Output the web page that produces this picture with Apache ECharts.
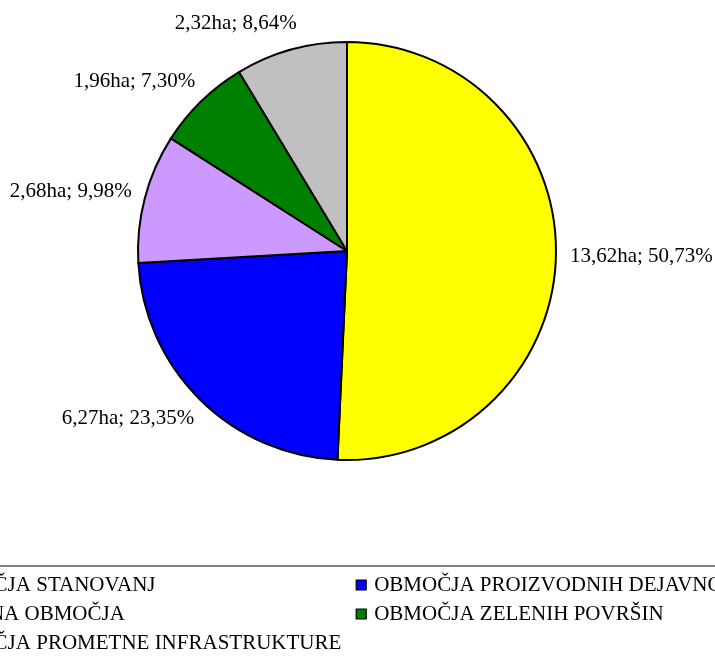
<!DOCTYPE html>
<html><head><meta charset="utf-8">
<script src="https://cdn.jsdelivr.net/npm/echarts@6/dist/echarts.min.js"></script>
<style>html,body{margin:0;padding:0;background:#fff}#c{width:715px;height:664px}</style>
</head><body><div id="c"></div>
<script>
const categories = ['OBMOČJA STANOVANJ', 'OBMOČJA PROIZVODNIH DEJAVNOSTI', 'MEŠANA OBMOČJA', 'OBMOČJA ZELENIH POVRŠIN', 'OBMOČJA PROMETNE INFRASTRUKTURE'];
const areasHa = [13.62, 6.27, 2.68, 1.96, 2.32];
const sliceColors = ['#FFFF00', '#0000FF', '#CC99FF', '#008000', '#C0C0C0'];

const FONT = "'Liberation Serif', 'Times New Roman', serif";
const fmt = (v) => v.toFixed(2).replace('.', ',');

const chart = echarts.init(document.getElementById('c'), null, {renderer: 'canvas'});
chart.setOption({
  animation: false,
  backgroundColor: '#fff',
  legend: {
    left: -98, top: 566, width: 900,
    padding: [8, 10, 40, 10],
    itemWidth: 10, itemHeight: 10, itemGap: 7,
    borderColor: '#000', borderWidth: 1,
    icon: 'rect',
    selectedMode: false,
    itemStyle: {borderColor: '#000', borderWidth: 1.2},
    textStyle: {fontFamily: FONT, fontSize: 21, color: '#000', lineHeight: 22, width: 418, padding: [0, 0, 0, 3], overflow: 'none'},
    data: categories
  },
  series: [{
    type: 'pie',
    center: [347, 251],
    radius: 209,
    startAngle: 90,
    clockwise: true,
    avoidLabelOverlap: false,
    itemStyle: {borderColor: '#000', borderWidth: 2},
    emphasis: {disabled: true},
    label: {
      show: true, position: 'outside',
      fontFamily: FONT, fontSize: 21, color: '#000',
      distanceToLabelLine: -13, overflow: 'none',
      formatter: (p) => fmt(p.value) + 'ha; ' + fmt(p.percent) + '%'
    },
    labelLine: {show: false, length: 27, length2: 0},
    data: categories.map((n, i) => ({name: n, value: areasHa[i], itemStyle: {color: sliceColors[i]}}))
  }]
});
</script>
</body></html>
